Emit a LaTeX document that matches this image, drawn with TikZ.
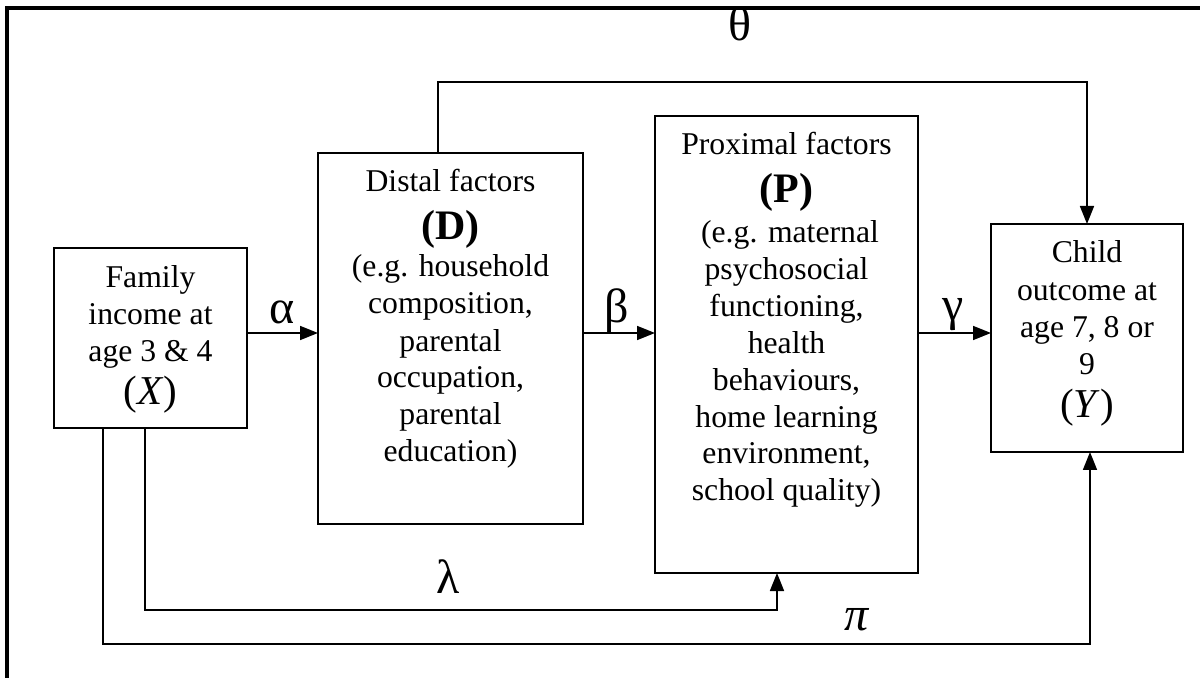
\documentclass[tikz,border=0pt]{standalone}
\usepackage{fontspec}
\setmainfont{Liberation Serif}
\usetikzlibrary{arrows.meta}
\begin{document}
\begin{tikzpicture}[x=0.5pt,y=-0.5pt,
  box/.style={draw, line width=0.7pt, inner sep=0pt, outer sep=0pt, anchor=north west},
  txt/.style={anchor=base, inner sep=0pt, font=\fontsize{15.85}{18}\selectfont},
  bigb/.style={anchor=base, inner sep=0pt, font=\fontsize{21}{24}\selectfont\bfseries},
  bigr/.style={anchor=base, inner sep=0pt, font=\fontsize{20.5}{24}\selectfont},
  greek/.style={inner sep=0pt, font=\fontsize{24}{28}\selectfont},
  conn/.style={line width=0.85pt},
  arr/.style={conn, -{Triangle[length=9pt,width=7pt]}}]
\useasboundingbox (0,0) rectangle (1200,678);
% outer frame
\draw[line width=1.6pt] (7,700) -- (7,8) -- (1220,8);

% boxes
\node[box, minimum width=96.5pt, minimum height=90pt] (X) at (54,248) {};
\node[box, minimum width=132.5pt, minimum height=185.5pt] (D) at (318,153) {};
\node[box, minimum width=131.5pt, minimum height=228.5pt] (P) at (655,116) {};
\node[box, minimum width=96pt, minimum height=114pt] (Y) at (991,224) {};

% X text
\node[txt] (x1) at (150.5,288) {Family};
\node[txt] (x2) at (150.5,325) {income at};
\node[txt] (x3) at (150.5,362) {age 3 \& 4};
\node[bigr] (x4) at (150.5,405) {(\textit{X})};

% D text
\node[txt] (d1) at (450.5,192) {Distal factors};
\node[bigb] (d2) at (450.5,240) {(D)};
\node[txt] (d3) at (450.5,277) {(e.g. household};
\node[txt] (d4) at (450.5,314) {composition,};
\node[txt] (d5) at (450.5,352) {parental};
\node[txt] (d6) at (450.5,388) {occupation,};
\node[txt] (d7) at (450.5,425) {parental};
\node[txt] (d8) at (450.5,462) {education)};

% P text
\node[txt] (p1) at (786.5,155) {Proximal factors};
\node[bigb] (p2) at (786.5,203) {(P)};
\node[txt] (p3) at (790,243) {(e.g. maternal};
\node[txt] (p4) at (786.5,280) {psychosocial};
\node[txt] (p5) at (786.5,317) {functioning,};
\node[txt] (p6) at (786.5,354) {health};
\node[txt] (p7) at (786.5,391) {behaviours,};
\node[txt] (p8) at (786.5,428) {home learning};
\node[txt] (p9) at (786.5,464) {environment,};
\node[txt] (p10) at (786.5,501) {school quality)};

% Y text
\node[txt] (y1) at (1087,263) {Child};
\node[txt] (y2) at (1087,301) {outcome at};
\node[txt] (y3) at (1087,338) {age 7, 8 or};
\node[txt] (y4) at (1087,375) {9};
\node[bigr] (y5) at (1087,418) {(\textit{Y})};

% helper coordinates
\coordinate (ay) at (0,333);
\coordinate (thA) at (438,82);
\coordinate (thB) at (1087,82);
\coordinate (la) at (145,610);
\coordinate (lb) at (777,610);
\coordinate (pa) at (103,644);
\coordinate (pb) at (1090,644);

% connectors
\draw[arr] (X.east |- ay) -- (D.west |- ay);
\draw[arr] (D.east |- ay) -- (P.west |- ay);
\draw[arr] (P.east |- ay) -- (Y.west |- ay);
\draw[arr] (D.north -| thA) -- (thA) -- (thB) -- (Y.north -| thB);
\draw[arr] (X.south -| la) -- (la) -- (lb) -- (P.south -| lb);
\draw[arr] (X.south -| pa) -- (pa) -- (pb) -- (Y.south -| pb);

% labels
\node[greek] (alpha) at (282,312) {α};
\node[greek] (beta) at (617,311) {β};
\node[greek] (gamma) at (953,315) {γ};
\node[greek] (theta) at (740,24) {θ};
\node[greek] (lambda) at (448,577) {λ};
\node[greek] (pi) at (857,620) {\itshape π};
\end{tikzpicture}
\end{document}
